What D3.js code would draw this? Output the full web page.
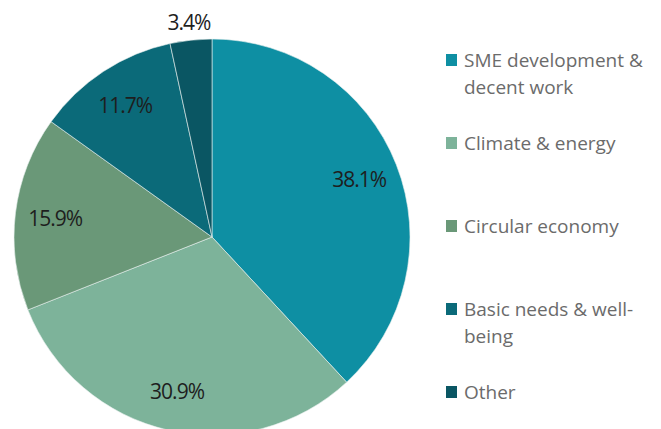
<!DOCTYPE html>
<html>
<head>
<meta charset="utf-8">
<script src="https://cdn.jsdelivr.net/npm/d3@7"></script>
<style>
  body { margin: 0; background: #fff; }
  text { font-family: "Open Sans", sans-serif; }
</style>
</head>
<body>
<div id="chart"></div>
<script>
// data
const categories = ["SME development & decent work", "Climate & energy", "Circular economy", "Basic needs & well-being", "Other"];
const shares = [38.1, 30.9, 15.9, 11.7, 3.4];
const legendLines = [["SME development &", "decent work"], ["Climate & energy"], ["Circular economy"], ["Basic needs & well-", "being"], ["Other"]];
const colors = ["#0e8fa3", "#7db39a", "#6a9878", "#0b6a79", "#0a5663"];

const W = 661, H = 429;
const cx = 212, cy = 237, R = 198;

const svg = d3.select("#chart").append("svg")
  .attr("width", W).attr("height", H);

const pie = d3.pie().sort(null).value(d => d);
const arcs = pie(shares);
const arc = d3.arc().innerRadius(0).outerRadius(R);
const labelArc = d3.arc().innerRadius(158).outerRadius(158);
const outerArc = d3.arc().innerRadius(216).outerRadius(216);

const g = svg.append("g").attr("transform", `translate(${cx},${cy})`);

g.selectAll("path")
  .data(arcs)
  .enter().append("path")
  .attr("d", arc)
  .attr("fill", (d, i) => colors[i])
  .attr("stroke", "#e8f0ee")
  .attr("stroke-width", 0.6);

// percentage labels (small slice goes outside)
g.selectAll(".lbl")
  .data(arcs)
  .enter().append("text")
  .attr("class", "lbl")
  .attr("transform", d => {
    const c = (d.data < 5 ? outerArc : labelArc).centroid(d);
    return `translate(${c[0]},${c[1]})`;
  })
  .attr("text-anchor", "middle")
  .attr("dominant-baseline", "central")
  .style("font-size", "21px")
  .style("letter-spacing", "-1px")
  .style("fill", "#1e1e1e")
  .text(d => d.data.toFixed(1) + "%");

// legend
const legend = svg.append("g").attr("transform", "translate(446,0)");
const ly = d3.scalePoint().domain(categories).range([60, 392]);

const items = legend.selectAll(".item")
  .data(categories)
  .enter().append("g")
  .attr("class", "item")
  .attr("transform", d => `translate(0,${ly(d)})`);

items.append("rect")
  .attr("x", 0).attr("y", -6)
  .attr("width", 11).attr("height", 12)
  .attr("fill", (d, i) => colors[i]);

items.append("text")
  .attr("x", 18)
  .attr("y", 7)
  .style("font-size", "19px")
  .style("fill", "#6b6b6b")
  .selectAll("tspan")
  .data((d, i) => legendLines[i])
  .enter().append("tspan")
  .attr("x", 18)
  .attr("dy", (d, i) => i ? 27 : 0)
  .text(d => d);
</script>
</body>
</html>
